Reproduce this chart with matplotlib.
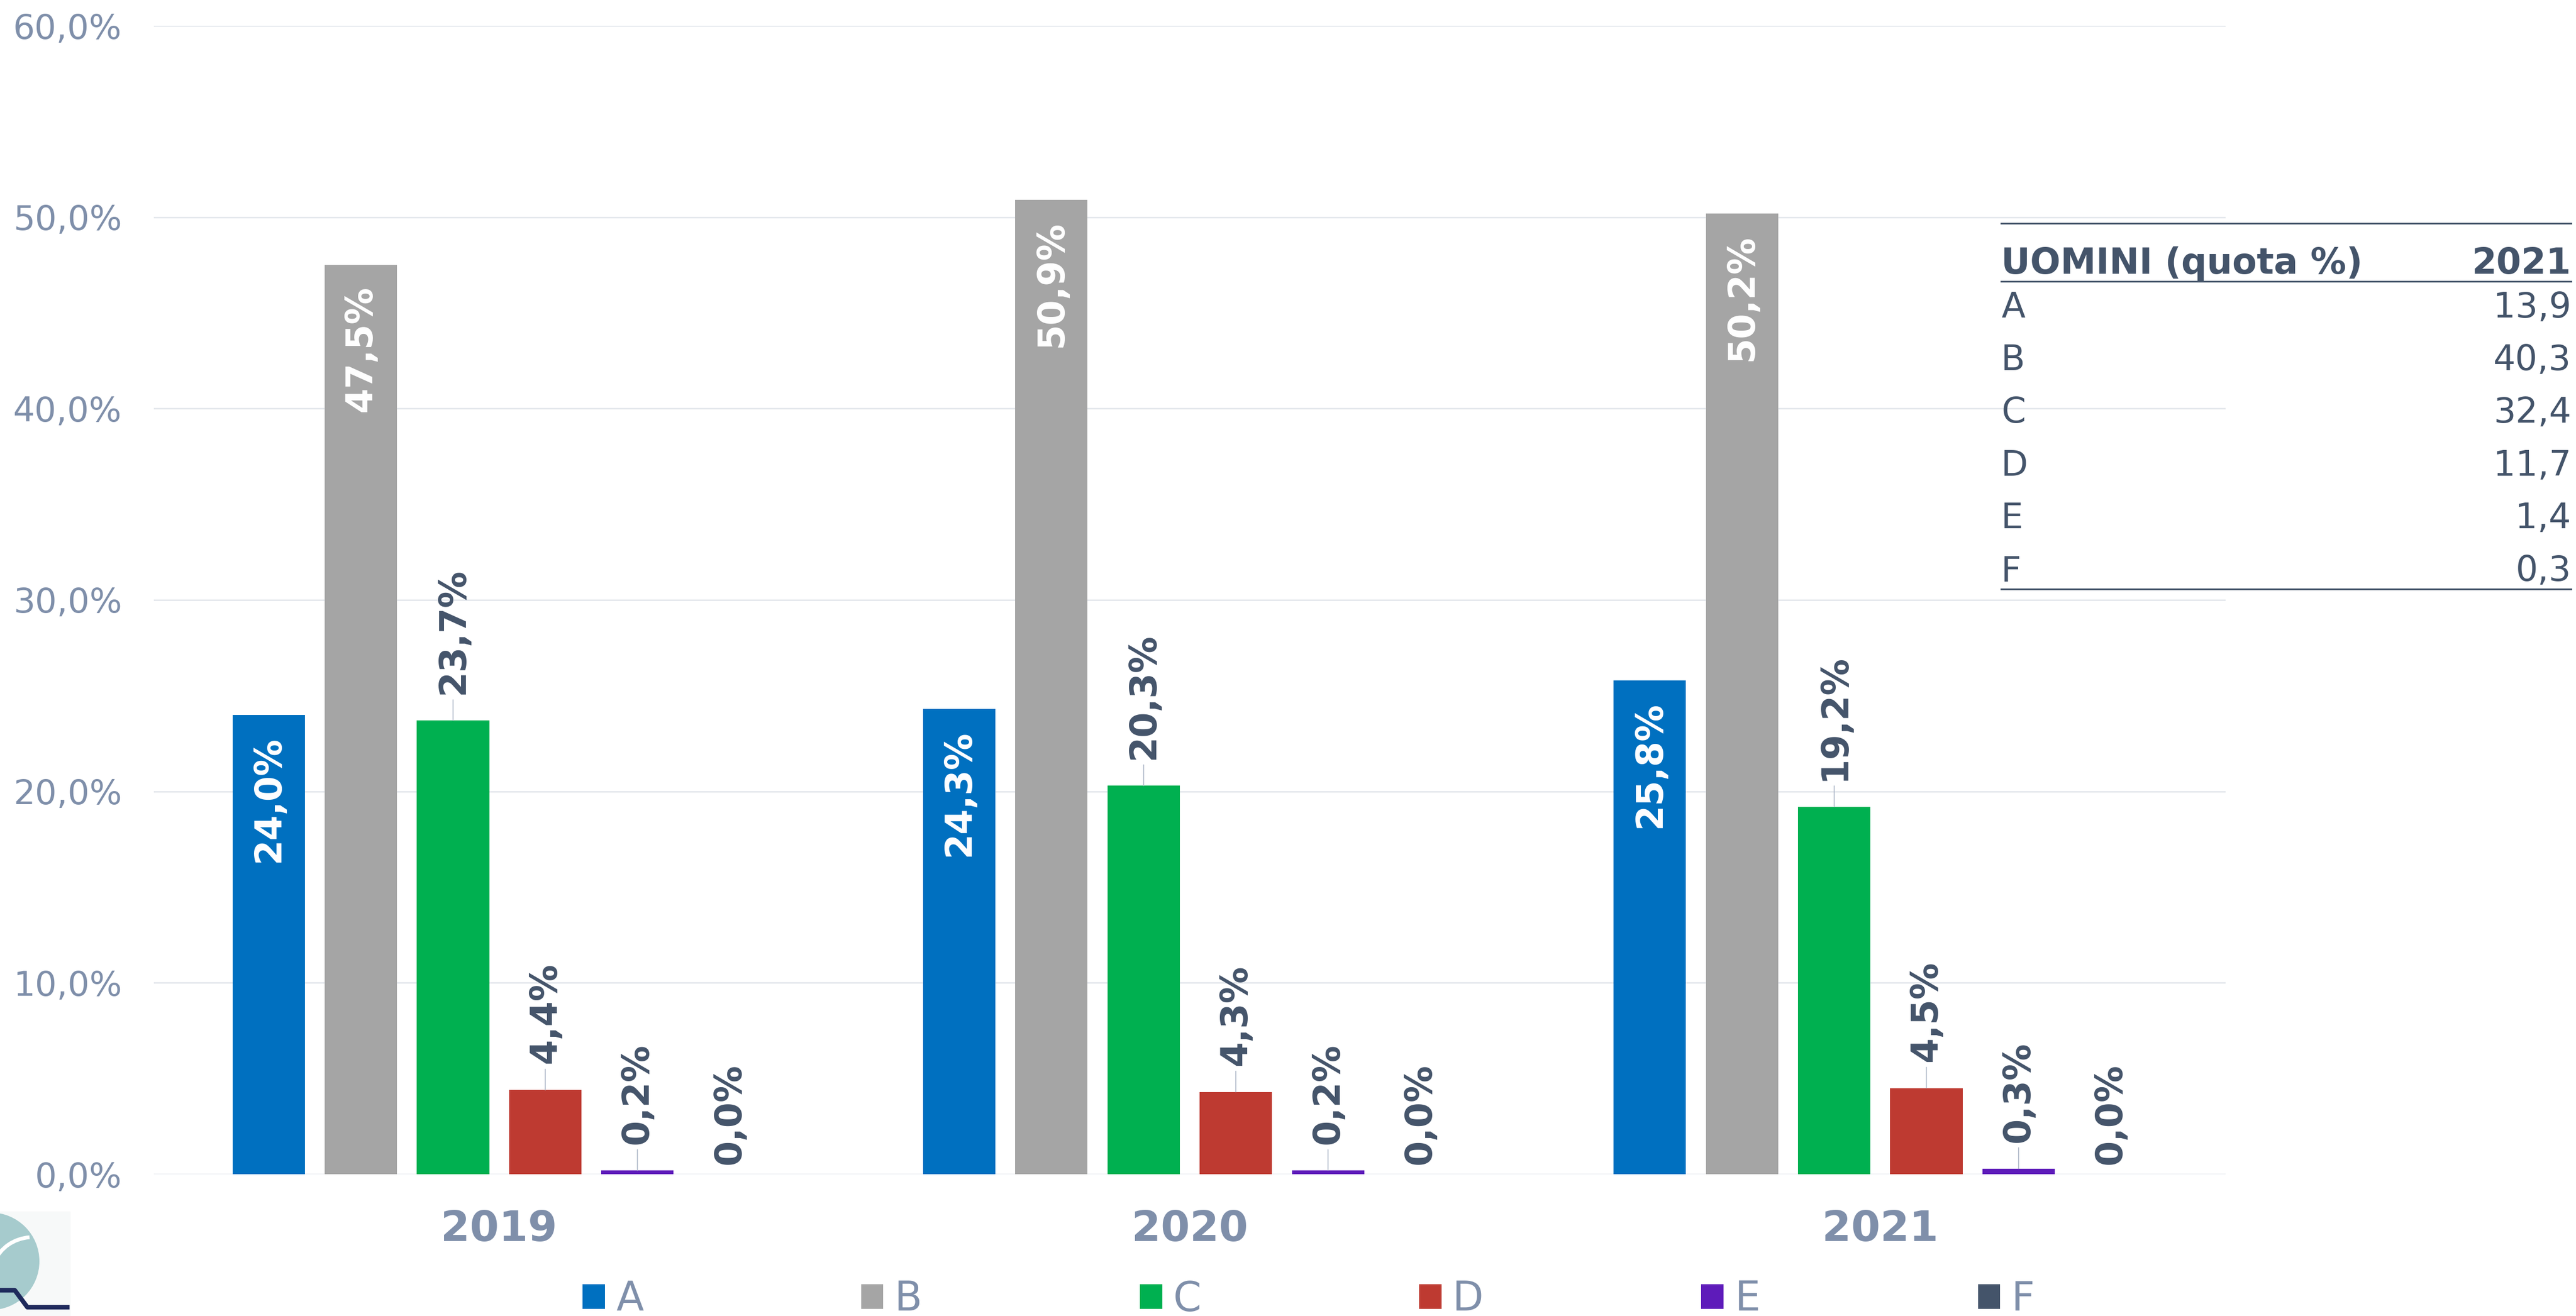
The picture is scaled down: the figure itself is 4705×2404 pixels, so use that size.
import matplotlib
matplotlib.use('Agg')
import matplotlib.pyplot as plt
from matplotlib.patches import Patch, Rectangle, Circle, Arc
from matplotlib.lines import Line2D
from matplotlib.transforms import Affine2D
import numpy as np

# data
years = ['2019', '2020', '2021']
series = ['A', 'B', 'C', 'D', 'E', 'F']
values = {
    'A': [24.0, 24.3, 25.8],
    'B': [47.5, 50.9, 50.2],
    'C': [23.7, 20.3, 19.2],
    'D': [4.4, 4.3, 4.5],
    'E': [0.2, 0.2, 0.3],
    'F': [0.0, 0.0, 0.0],
}
colors = ['#0070C0', '#A5A5A5', '#00B050', '#BE3A31', '#5E1BBA', '#44546A']
inside = ['A', 'B']  # white labels inside the bar

table_title = 'UOMINI (quota %)'
table_year = '2021'
table_values = [13.9, 40.3, 32.4, 11.7, 1.4, 0.3]

W, H = 4705, 2404
DARK = '#44546A'
AXIS_TXT = '#7F8FAA'
GRID = '#E1E5EB'
PX = 0.72  # points per pixel at dpi 100

fig = plt.figure(figsize=(W / 100, H / 100), dpi=100)
ax = fig.add_axes([281 / W, 1 - 2145 / H, (4065 - 281) / W, (2145 - 47) / H])

x = np.arange(len(years))
pitch = 0.1335
bw = 0.1047

for i, s in enumerate(series):
    xs = x + (i - 2.5) * pitch
    ax.bar(xs, values[s], width=bw, color=colors[i], zorder=2)
    for xi, v in zip(xs, values[s]):
        txt = f"{v:.1f}%".replace('.', ',')
        if s in inside:
            ax.annotate(txt, (xi, v), xytext=(0, -38 * PX), textcoords='offset points',
                        ha='center', va='top', rotation=90, color='white',
                        fontsize=48, fontweight='bold', zorder=3)
        elif v > 0:
            ax.annotate('', (xi, v), xytext=(0, 38 * PX), textcoords='offset points',
                        arrowprops=dict(arrowstyle='-', color='#AEB8C8', lw=1.2,
                                        shrinkA=0, shrinkB=0), zorder=3)
            ax.annotate(txt, (xi, v), xytext=(0, 48 * PX), textcoords='offset points',
                        ha='center', va='bottom', rotation=90, color=DARK,
                        fontsize=48, fontweight='bold', zorder=3)
        else:
            ax.annotate(txt, (xi, v), xytext=(0, 18 * PX), textcoords='offset points',
                        ha='center', va='bottom', rotation=90, color=DARK,
                        fontsize=48, fontweight='bold', zorder=3)

ax.set_xlim(-0.5, 2.5)
ax.set_ylim(0, 60)
ax.set_yticks(range(0, 61, 10))
ax.set_yticklabels([f"{t:.1f}%".replace('.', ',') for t in range(0, 61, 10)])
ax.set_xticks(x)
ax.set_xticklabels(years, fontweight='bold')
ax.tick_params(axis='y', length=0, pad=42, labelsize=45, labelcolor=AXIS_TXT)
ax.tick_params(axis='x', length=0, pad=46, labelsize=55, labelcolor=AXIS_TXT)
ax.yaxis.grid(True, color=GRID, lw=1.8)
ax.set_axisbelow(True)
for sp in ax.spines.values():
    sp.set_visible(False)

# legend at the bottom
handles = [Patch(facecolor=c, edgecolor='none') for c in colors]
fig.legend(handles, series, loc='center', bbox_to_anchor=(2390 / W, 1 - 2374 / H),
           ncol=6, frameon=False, fontsize=53, handlelength=0.55, handleheight=0.55,
           handletextpad=0.28, columnspacing=5.4, labelcolor=AXIS_TXT)

# small table on the right (figure pixel coords)
px = Affine2D().scale(1 / W, -1 / H).translate(0, 1) + fig.transFigure
tx0, tx1 = 3655, 4696
for yl in (408, 514, 1076):
    fig.add_artist(Line2D([tx0, tx1], [yl, yl], transform=px, color=DARK, lw=2.2))
fig.text(tx0, 500, table_title, transform=px, fontsize=47, fontweight='bold',
         color=DARK, va='baseline', ha='left')
fig.text(tx1, 500, table_year, transform=px, fontsize=47, fontweight='bold',
         color=DARK, va='baseline', ha='right')
for i, (s, v) in enumerate(zip(series, table_values)):
    yb = 580 + i * 96.2
    fig.text(tx0, yb, s, transform=px, fontsize=46, color=DARK, va='baseline', ha='left')
    fig.text(tx1, yb, f"{v:.1f}".replace('.', ','), transform=px, fontsize=46,
             color=DARK, va='baseline', ha='right')

# logo fragment, bottom left
fig.add_artist(Rectangle((0, 2213), 129, 191, transform=px, color='#F7F9F9', lw=0))
fig.add_artist(Circle((-17, 2304), 89, transform=px, color='#A6CBCD', lw=0))
fig.add_artist(Arc((60, 2330), 150, 140, theta1=200, theta2=265, transform=px,
                   color='white', lw=5))
fig.add_artist(Line2D([0, 27, 50, 127], [2357, 2357, 2388, 2388], transform=px,
                      color='#1F2A5C', lw=6, solid_capstyle='butt'))

fig.savefig('out.png', dpi=100, facecolor='white')
